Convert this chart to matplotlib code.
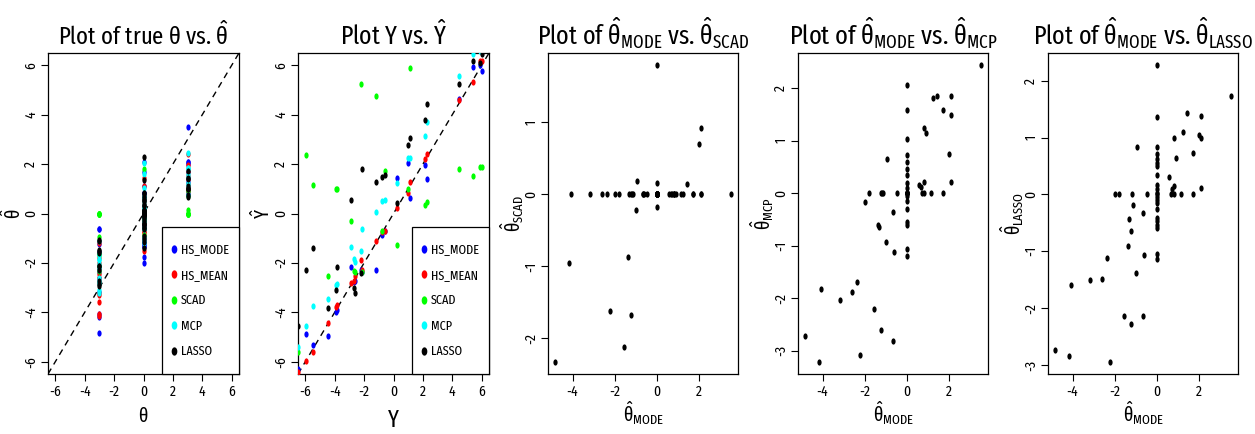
import numpy as np
import matplotlib
matplotlib.use('Agg')
import matplotlib.pyplot as plt
from matplotlib import font_manager as fm
from matplotlib.path import Path
from matplotlib.lines import Line2D
from matplotlib.legend_handler import HandlerLine2D

# ---------------- font: prefer the narrowest regular sans available ----------------
PREF = ['Noto Sans', 'Liberation Sans Narrow', 'Arial Narrow', 'Roboto Condensed',
        'Open Sans Condensed', 'DejaVu Sans', 'Open Sans', 'Roboto', 'Liberation Sans']


def narrow_level(name, st):
    low = name.lower().replace(' ', '')
    if 'ultracondensed' in low or 'extracondensed' in low or st in ('ultra-condensed', 'extra-condensed'):
        return 0
    if 'semicondensed' in low or st == 'semi-condensed':
        return 2
    if 'condensed' in low or 'narrow' in low or st == 'condensed':
        return 1
    return 9


def base_rank(name):
    for i, p in enumerate(PREF):
        if name.startswith(p):
            return i
    return len(PREF)


def find_narrow():
    found = []
    for f in fm.fontManager.ttflist:
        nm, st = f.name, f.stretch
        lvl = narrow_level(nm, st if isinstance(st, str) else '')
        if lvl == 9 or f.style != 'normal':
            continue
        if 'Mono' in nm or 'Serif' in nm or 'CJK' in nm:
            continue
        try:
            w = int(f.weight)
        except Exception:
            w = 400
        if w != 400:
            continue
        found.append((lvl, base_rank(nm), nm, st))
    if not found:
        return None
    found.sort()
    return found[0][2], found[0][3], found[0][0]


res = find_narrow()
if res is None:
    FONT, STRETCH, LEVEL = 'Liberation Sans', 'normal', 9
else:
    FONT, STRETCH, LEVEL = res

pat = FONT + (':stretch=%s' % STRETCH if isinstance(STRETCH, str) else '')
plt.rcParams.update({
    'font.family': [FONT, 'DejaVu Sans'],
    'font.stretch': STRETCH,
    'mathtext.fontset': 'custom',
    'mathtext.rm': pat,
    'mathtext.it': pat,
    'mathtext.bf': pat,
    'mathtext.sf': pat,
    'axes.unicode_minus': False,
})

# ---------------- data: coefficient estimates ----------------
theta_true = [-3, -3, -3, -3, -3, -3, -3, -3, -3, -3, -3,
              3, 3, 3, 3, 3, 3, 3, 3, 3,
              0, 0, 0, 0, 0, 0, 0, 0, 0, 0, 0, 0, 0, 0, 0, 0, 0, 0, 0,
              0, 0, 0, 0, 0, 0, 0, 0, 0, 0, 0, 0, 0, 0, 0, 0, 0, 0, 0, 0, 0, 0]
hs_mode = [-4.83, -4.18, -4.06, -3.17, -2.60, -2.38, -2.22, -1.55, -1.22, -0.64, -0.62,
           3.52, 2.09, 2.09, 2.01, 1.70, 1.43, 1.26, 0.90, 0.80,
           -2.00, -1.78, -1.37, -1.30, -1.22, -1.18, -1.12, -1.00, -0.96, -0.64, -0.45,
           0.60, 0.66, 0.70, 0.84, 0.82, 1.13, 1.70, 2.09,
           0, 0, 0, 0, 0, 0, 0, 0, 0, 0, 0, 0, 0, 0, 0, 0, 0, 0, 0, 0, 0, 0]
hs_mean = [-4.15, -4.08, -3.60, -3.30, -3.20, -2.45, -2.60, -2.20, -2.00, -1.80, -1.20,
           2.40, 1.95, 1.80, 1.70, 1.50, 1.40, 1.20, 1.00, 0.90,
           -1.50, -1.00, -0.90, -0.80, -0.70, -0.60, -0.60, -0.70, -0.40, -0.30, -0.20,
           0.30, 0.35, 0.40, 0.50, 0.45, 0.70, 1.10, 1.45,
           0.60, 0.40, 0.30, 0.20, 0.15, 0.10, 0.10, 0.05, 0.02, 0, 0, 0, 0, -0.02, -0.05,
           -0.10, -0.15, -0.20, -0.10, -0.15, -0.30, -0.35]
scad = [-2.33, -0.95, 0, 0, 0, 0, -1.62, -2.12, -1.67, 0, 0,
        0, 0.92, 0, 0.70, 0, 0.15, 0, 0, 0,
        0, 0, -0.87, 0, 0, 0, 0, -0.22, 0.18, 0, 0,
        0, 0, 0, 0, 0, 0, 0, 0,
        1.80, 0, 0.16, 0, 0, 0, 0, 0, 0, 0, 0, 0, 0, 0, 0, 0, -0.17, 0, 0, 0, 0, 0]
mcp = [-2.72, -3.22, -1.83, -2.04, -1.89, -1.70, -3.09, -2.20, -2.61, -2.82, -1.13,
       2.44, 1.84, 1.48, 0.75, 1.58, 1.85, 1.80, 1.14, 1.24,
       -0.17, 0, -0.61, -0.64, 0, 0, 0, -0.94, 0.65, -0.36, 0,
       0.16, 0.11, 0, 0.21, 0, 0, 0, 0.21,
       2.06, 1.58, 1.03, 0.72, 0.60, 0.45, 0.35, 0.20, 0.10, 0, 0, 0, 0, -0.05, -0.15,
       -0.30, -0.55, -0.60, 0, 0, -1.07, -1.20]
lasso = [-2.73, -2.84, -1.59, -1.51, -1.48, -1.11, -2.95, -2.13, -2.28, -2.14, -1.06,
         1.73, 1.38, 0.99, 1.04, 0.73, 1.43, 1.10, 0.65, 1.00,
         0, 0, -0.91, -0.44, -0.64, 0, -0.19, -1.39, 0.83, -0.33, 0,
         0.30, 0, 0.10, 0.15, 0, 0, 0, 0.12,
         2.28, 1.36, 0.83, 0.71, 0.62, 0.56, 0.50, 0.35, 0.16, 0.09, 0.03, 0, -0.05, -0.10, -0.15,
         -0.26, -0.41, -0.47, -0.53, -0.59, -1.04, -1.14]

# ---------------- data: observed Y and fitted values ----------------
y_obs = [-6.48, -5.93, -5.48, -4.46, -3.90, -3.85, -2.92, -2.69, -2.62, -2.24, -2.15, -1.18,
         -0.77, -0.61, 0.23, 0.97, 1.15, 2.15, 2.26, 4.48, 5.39, 5.89, 6.05]
yhat_mode = [-6.30, -4.89, -5.32, -4.95, -3.97, -3.90, -2.15, -2.76, -2.75, -2.30, -2.35, -2.28,
             -0.86, -0.72, 1.43, 2.04, 0.62, 1.95, 1.41, 4.64, 5.95, 6.00, 5.76]
yhat_mean = [-6.43, -5.96, -5.59, -4.45, -3.77, -3.72, -2.82, -2.75, -2.55, -1.88, -2.30, -1.11,
             -0.75, -0.69, 0.22, 0.85, 1.26, 2.20, 2.41, 4.58, 5.32, 6.19, 6.17]
yhat_scad = [-5.60, 2.36, 1.15, -2.53, 1.01, 0.98, -0.30, -2.33, -2.35, 5.26, -2.38, 4.74,
             -0.70, 1.74, -1.27, 1.01, 5.88, 0.35, 0.46, 1.80, 1.50, 1.88, 1.90]
yhat_mcp = [-5.39, -4.55, -3.74, -3.47, -2.89, -2.85, -1.34, -1.85, -1.95, -1.53, -0.61, 0.05,
            0.49, 0.55, 1.23, 2.26, 2.26, 3.15, 3.70, 5.55, 6.46, 6.60, 6.70]
yhat_lasso = [-4.54, -2.28, -1.38, -3.84, -3.09, -2.15, 0.55, -3.03, -3.20, -2.42, 1.80, 1.26,
              1.46, 1.54, 0.42, 2.78, 3.05, 3.77, 4.43, 5.24, 6.16, 6.10, 6.45]

methods = ['HS_MODE', 'HS_MEAN', 'SCAD', 'MCP', 'LASSO']
colors = ['#0000FF', '#FF0000', '#00FF00', '#00FFFF', '#000000']

# ---------------- figure ----------------
W, H = 1255, 434
fig = plt.figure(figsize=(W / 100, H / 100), dpi=100)
renderer = fig.canvas.get_renderer()

t = np.linspace(0, 2 * np.pi, 41)
DOT = Path(np.column_stack([0.34 * np.cos(t), 0.5 * np.sin(t)]))
MS = 20

AX_BOTTOM, AX_TOP = 374, 53


def add_ax(left, right):
    return fig.add_axes([left / W, (H - AX_BOTTOM) / H, (right - left) / W,
                         (AX_BOTTOM - AX_TOP) / H])


def fit_width(txt, target_px, max_fs=None):
    w = txt.get_window_extent(renderer).width
    fs = txt.get_fontsize() * target_px / w
    if max_fs is not None:
        fs = min(fs, max_fs)
    txt.set_fontsize(fs)
    return fs


# tick label size: "-6" about 12 px wide
_probe = fig.text(0, 0, '-6', fontsize=10)
TICK_FS = min(fit_width(_probe, 12), 13)
_probe.remove()


def style(ax, xticks, yticks):
    ax.set_xticks(xticks)
    ax.set_yticks(yticks)
    ax.set_xticklabels([f'{v:g}' for v in xticks])
    ax.set_yticklabels([f'{v:g}' for v in yticks])
    ax.tick_params(direction='out', length=5, width=0.8, labelsize=TICK_FS, pad=3)
    ax.tick_params(axis='y', labelrotation=90, pad=2)
    for lbl in ax.get_yticklabels():
        lbl.set_va('center')
    for s in ax.spines.values():
        s.set_linewidth(0.9)


# legend text size: make "HS_MODE" about 48 px wide as in the reference
_probe = fig.text(0, 0, methods[0], fontsize=10)
LEG_FS = min(fit_width(_probe, 48), 12)
_probe.remove()
LEG_PX = LEG_FS * 100 / 72
ROW_PX = 25.5           # row pitch in the reference legend
PAD_PX = 10.0           # frame padding
# row height in a legend = fs*hh - 0.35*fs*(hh - 0.7)
LEG_HH = (ROW_PX / LEG_PX - 0.245) / 0.65
LEG_BP = PAD_PX / LEG_PX


class CenteredDot(HandlerLine2D):
    """Legend dot placed at the middle of the capital letters of its label."""

    def create_artists(self, legend, orig_handle, xdescent, ydescent, width, height,
                       fontsize, trans):
        arts = super().create_artists(legend, orig_handle, xdescent, ydescent, width,
                                      height, fontsize, trans)
        for a in arts:
            yd = np.asarray(a.get_ydata(), dtype=float)
            a.set_ydata(np.full_like(yd, 0.35 * fontsize))
        return arts


def legend(ax):
    handles = [Line2D([], [], ls='none', marker=DOT, ms=6, color=c, mec='none') for c in colors]
    lg = ax.legend(handles, methods, loc='lower right', borderaxespad=0, fontsize=LEG_FS,
                   frameon=True, fancybox=False, framealpha=1, edgecolor='black',
                   handlelength=0.35, handleheight=LEG_HH, handletextpad=0.35,
                   labelspacing=0.0, borderpad=LEG_BP,
                   handler_map={Line2D: CenteredDot()})
    lg.get_frame().set_linewidth(0.9)


def place_labels(ax, xl_base, yl_x, width_px):
    ax.xaxis.label.set_va('baseline')
    ax.xaxis.set_label_coords(0.5, -(xl_base - AX_BOTTOM) / (AX_BOTTOM - AX_TOP))
    ax.yaxis.label.set_va('center')
    ax.yaxis.set_label_coords(-yl_x / width_px, 0.5)


lim = (-6.5, 6.5)
ticks6 = [-6, -4, -2, 0, 2, 4, 6]
TITLE_MAX = 30
TSCALE = 1.1
LAB_FS = 14 if LEVEL == 0 else 13

# Panel 1
ax1 = add_ax(48, 239)
ests = [hs_mode, hs_mean, scad, mcp, lasso]
for est, c in zip(ests, colors):
    ax1.scatter(theta_true, est, s=MS, marker=DOT, c=c, linewidths=0, zorder=3)
ax1.axline((0, 0), slope=1, color='black', lw=1, ls=(0, (4.5, 3.5)), zorder=2)
ax1.set_xlim(lim)
ax1.set_ylim(lim)
style(ax1, ticks6, ticks6)
t1 = ax1.set_title(r'Plot of true $\theta$ vs. $\hat{\theta}$', fontsize=18, pad=6)
fit_width(t1, 155 * TSCALE, TITLE_MAX)
ax1.set_xlabel(r'$\theta$', fontsize=LAB_FS)
ax1.set_ylabel(r'$\hat{\theta}$', fontsize=LAB_FS)
place_labels(ax1, 422, 35, 191)
legend(ax1)

# Panel 2
ax2 = add_ax(298, 489)
fits = [yhat_mode, yhat_mean, yhat_scad, yhat_mcp, yhat_lasso]
for est, c in zip(fits, colors):
    ax2.scatter(y_obs, est, s=MS, marker=DOT, c=c, linewidths=0, zorder=3)
ax2.axline((0, 0), slope=1, color='black', lw=1, ls=(0, (4.5, 3.5)), zorder=2)
ax2.set_xlim(lim)
ax2.set_ylim(lim)
style(ax2, ticks6, ticks6)
t2 = ax2.set_title(r'Plot Y vs. $\hat{Y}$', fontsize=18, pad=6)
fit_width(t2, 98 * TSCALE, TITLE_MAX)
ax2.set_xlabel('Y', fontsize=LAB_FS + 3)
ax2.set_ylabel(r'$\hat{Y}$', fontsize=LAB_FS)
place_labels(ax2, 427, 36, 191)
legend(ax2)

# Panels 3-5
others = [(scad, 'SCAD', [-2, -1, 0, 1], 548, 738, 193),
          (mcp, 'MCP', [-3, -2, -1, 0, 1, 2], 798, 988, 190),
          (lasso, 'LASSO', [-3, -2, -1, 0, 1, 2], 1048, 1238, 200)]
for est, name, yt, l, r, tw in others:
    ax = add_ax(l, r)
    ax.scatter(hs_mode, est, s=MS, marker=DOT, c='black', linewidths=0, zorder=3)
    ax.margins(x=0.04, y=0.04)
    style(ax, [-4, -2, 0, 2], yt)
    tt = ax.set_title(r'Plot of $\hat{\theta}_{\mathrm{MODE}}$ vs. $\hat{\theta}_{\mathrm{%s}}$' % name,
                      fontsize=18, pad=6)
    fit_width(tt, tw * TSCALE, TITLE_MAX)
    ax.set_xlabel(r'$\hat{\theta}_{\mathrm{MODE}}$', fontsize=LAB_FS)
    ax.set_ylabel(r'$\hat{\theta}_{\mathrm{%s}}$' % name, fontsize=LAB_FS)
    place_labels(ax, 422, 36, r - l)

fig.savefig('out.png', dpi=100)
